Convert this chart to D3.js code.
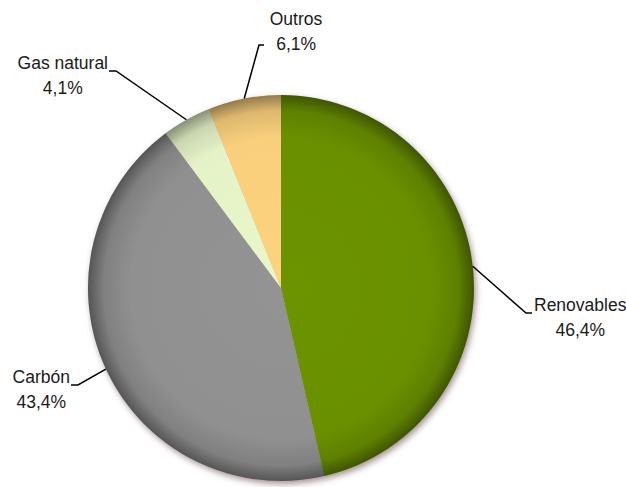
<!DOCTYPE html>
<html>
<head>
<meta charset="utf-8">
<script src="https://cdn.jsdelivr.net/npm/d3@7"></script>
<style>
  html, body { margin: 0; padding: 0; background: #fff; }
  svg { display: block; }
  text { font-family: "Liberation Sans", Arial, sans-serif; font-size: 17.5px; fill: #1a1a1a; }
</style>
</head>
<body>
<svg id="chart" width="626" height="487"></svg>
<script>
// Electricity generation mix (share of total, %)
const categories = ["Renovables", "Carbón", "Gas natural", "Outros"];
const values = [46.4, 43.4, 4.1, 6.1];
const valueLabels = ["46,4%", "43,4%", "4,1%", "6,1%"];
const colors = ["#6c9300", "#939393", "#e9f7cb", "#fed37f"];

// Label placement: elbow of the leader line and which side the text hangs on
const labelLayout = [
  { elbow: [526, 313], side: "right" },
  { elbow: [78, 385],  side: "left" },
  { elbow: [116, 71],  side: "left" },
  { elbow: [259, 45],  side: "top" }
];

const width = 626, height = 487;
const cx = 281, cy = 288, radius = 193;

const svg = d3.select("#chart");
const defs = svg.append("defs");

// soft shadow around the disc
const shadow = defs.append("filter").attr("id", "shadow")
  .attr("x", "-20%").attr("y", "-20%").attr("width", "140%").attr("height", "140%");
shadow.append("feGaussianBlur").attr("in", "SourceAlpha").attr("stdDeviation", 3).attr("result", "b");
shadow.append("feOffset").attr("in", "b").attr("dx", 2).attr("dy", 3).attr("result", "o");
shadow.append("feFlood").attr("flood-color", "#6b4c4c").attr("flood-opacity", 0.6);
shadow.append("feComposite").attr("in2", "o").attr("operator", "in").attr("result", "s");
const merge = shadow.append("feMerge");
merge.append("feMergeNode").attr("in", "s");
merge.append("feMergeNode").attr("in", "SourceGraphic");

// darkening towards the rim
const rim = defs.append("radialGradient").attr("id", "rim")
  .attr("cx", "50%").attr("cy", "50%").attr("r", "50%");
rim.append("stop").attr("offset", "0%").attr("stop-color", "#000").attr("stop-opacity", 0);
rim.append("stop").attr("offset", "78%").attr("stop-color", "#000").attr("stop-opacity", 0.02);
rim.append("stop").attr("offset", "92%").attr("stop-color", "#000").attr("stop-opacity", 0.13);
rim.append("stop").attr("offset", "100%").attr("stop-color", "#000").attr("stop-opacity", 0.42);

const data = categories.map((c, i) => ({ name: c, value: values[i], label: valueLabels[i], color: colors[i], layout: labelLayout[i] }));

const pie = d3.pie().sort(null).value(d => d.value).startAngle(0).endAngle(2 * Math.PI);
const arcs = pie(data);
const arc = d3.arc().innerRadius(0).outerRadius(radius);

const g = svg.append("g").attr("transform", `translate(${cx},${cy})`);

const disc = g.append("g").attr("filter", "url(#shadow)");
disc.selectAll("path.slice")
  .data(arcs)
  .join("path")
  .attr("class", "slice")
  .attr("d", arc)
  .attr("fill", d => d.data.color);

g.append("circle").attr("r", radius).attr("fill", "url(#rim)");

// leader lines and labels
const edgePoint = a => {
  const m = (a.startAngle + a.endAngle) / 2;
  return [cx + Math.sin(m) * radius, cy - Math.cos(m) * radius];
};

const labels = svg.append("g");
arcs.forEach(a => {
  const d = a.data;
  const [ex, ey] = edgePoint(a);
  const [bx, by] = d.layout.elbow;
  let tail, tx, anchor;
  if (d.layout.side === "right") {
    tail = [bx + 6, by];
    tx = bx + 8; anchor = "start";
  } else if (d.layout.side === "left") {
    tail = [bx - 7, by];
    tx = bx - 8; anchor = "end";
  } else {
    tail = [bx + 5, by];
    tx = bx + 37; anchor = "middle";
  }
  labels.append("polyline")
    .attr("points", [[ex, ey], [bx, by], tail].map(p => p.join(",")).join(" "))
    .attr("fill", "none").attr("stroke", "#000").attr("stroke-width", 1.5);

  let nameY, valY;
  if (d.layout.side === "top") { nameY = by - 20; valY = by + 5; }
  else { nameY = by - 2; valY = by + 23; }
  const nameText = labels.append("text").attr("x", tx).attr("y", nameY).attr("text-anchor", anchor).text(d.name);
  const bb = nameText.node().getBBox();
  // value line is centred under the category name
  labels.append("text").attr("text-anchor", "middle")
    .attr("x", bb.x + bb.width / 2).attr("y", valY).text(d.label);
});
</script>
</body>
</html>
